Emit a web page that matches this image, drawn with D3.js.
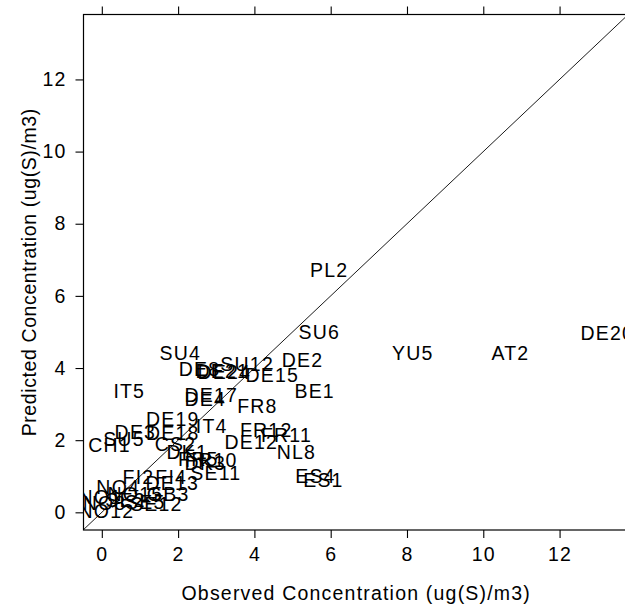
<!DOCTYPE html>
<html>
<head>
<meta charset="utf-8">
<script src="https://cdn.jsdelivr.net/npm/d3@7"></script>
<style>
  body { margin: 0; background: #fff; }
  text { font-family: "Liberation Sans", Arial, sans-serif; font-size: 19.5px; letter-spacing: 1.2px; fill: #000; }
  text.ytitle { letter-spacing: 0.6px; }
</style>
</head>
<body>
<div class="viz"></div>
<script>
// station labels with observed / predicted concentrations
var stations = ["PL2", "SU6", "DE2", "YU5", "AT2", "DE20", "BE1", "SU4", "SU12", "DE15",
    "DE8", "DE21", "DE24", "IT5", "DE17", "DE4", "FR8", "DE19", "IT4", "DE18",
    "DE3", "SU5", "CH1", "CS2", "DK1", "FR5", "DK3", "FR10", "SE11", "FI2",
    "FI4", "DE13", "NL8", "FR12", "FR11", "DE12", "ES4", "ES1", "NO4", "NO1",
    "NO8", "NO12", "SE2", "NO15", "SE5", "SE12", "GB3"];
var observed = [5.96, 5.70, 5.26, 8.15, 10.71, 13.25, 5.58, 2.06, 3.81, 4.47,
    2.56, 3.16, 3.21, 0.72, 2.87, 2.71, 4.08, 1.86, 2.88, 1.86,
    0.88, 0.58, 0.20, 1.93, 2.24, 2.53, 2.71, 2.87, 2.99, 0.96,
    1.82, 1.85, 5.10, 4.31, 4.84, 3.92, 5.60, 5.81, 0.43, -0.04,
    0.07, 0.12, 0.62, 0.88, 1.14, 1.43, 1.74];
var predicted = [6.73, 5.00, 4.21, 4.43, 4.43, 4.98, 3.35, 4.41, 4.11, 3.81,
    3.97, 3.92, 3.89, 3.35, 3.25, 3.15, 2.95, 2.60, 2.38, 2.21,
    2.23, 2.02, 1.88, 1.89, 1.67, 1.48, 1.37, 1.45, 1.10, 0.99,
    0.99, 0.81, 1.66, 2.28, 2.14, 1.96, 1.02, 0.90, 0.70, 0.42,
    0.26, 0.04, 0.34, 0.51, 0.29, 0.23, 0.51];
var xTicks = [0, 2, 4, 6, 8, 10, 12];
var yTicks = [0, 2, 4, 6, 8, 10, 12];
var xLabel = "Observed Concentration (ug(S)/m3)";
var yLabel = "Predicted Concentration (ug(S)/m3)";

var W = 625, H = 606;
// plot region (right edge falls just outside the picture)
var plotLeft = 83.5, plotRight = 629, plotTop = 14.5, plotBottom = 530;

var x = d3.scaleLinear().domain([-0.48, 13.82]).range([plotLeft, plotRight]);
var y = d3.scaleLinear().domain([-0.49, 13.80]).range([plotBottom, plotTop]);

var svg = d3.select(".viz").append("svg")
    .attr("width", W)
    .attr("height", H);

svg.append("defs").append("clipPath")
    .attr("id", "plotclip")
  .append("rect")
    .attr("x", plotLeft).attr("y", plotTop)
    .attr("width", plotRight - plotLeft).attr("height", plotBottom - plotTop);

// axes
var gx = svg.append("g")
    .attr("transform", "translate(0," + plotBottom + ")")
    .call(d3.axisBottom(x).tickValues(xTicks).tickSize(8).tickSizeOuter(0).tickPadding(9));
var gxt = svg.append("g")
    .attr("transform", "translate(0," + plotTop + ")")
    .call(d3.axisTop(x).tickValues(xTicks).tickSize(8).tickSizeOuter(0).tickFormat(""));
var gy = svg.append("g")
    .attr("transform", "translate(" + plotLeft + ",0)")
    .call(d3.axisLeft(y).tickValues(yTicks).tickSize(8).tickSizeOuter(0).tickPadding(9));

[gx, gxt, gy].forEach(function(g) {
    g.select(".domain").remove();
    g.selectAll("line").attr("stroke", "#000").attr("stroke-width", 1.1);
    g.selectAll("text").attr("fill", "#000");
    g.attr("font-family", null).attr("font-size", null);
});

// box
svg.append("rect")
    .attr("x", plotLeft).attr("y", plotTop)
    .attr("width", plotRight - plotLeft).attr("height", plotBottom - plotTop)
    .attr("fill", "none")
    .attr("stroke", "#000")
    .attr("stroke-width", 1.2);

var plot = svg.append("g").attr("clip-path", "url(#plotclip)");

// 1:1 line
plot.append("line")
    .attr("x1", x(-1)).attr("y1", y(-1))
    .attr("x2", x(15)).attr("y2", y(15))
    .attr("stroke", "#000")
    .attr("stroke-width", 0.9);

// station labels centred on their points
plot.selectAll("text.station")
    .data(stations)
  .enter().append("text")
    .attr("class", "station")
    .attr("x", function(d, i) { return x(observed[i]); })
    .attr("y", function(d, i) { return y(predicted[i]); })
    .attr("dy", "0.36em")
    .attr("text-anchor", "middle")
    .text(function(d) { return d; });

// axis titles
svg.append("text")
    .attr("x", (plotLeft + plotRight) / 2)
    .attr("y", 600)
    .attr("text-anchor", "middle")
    .text(xLabel);

svg.append("text")
    .attr("class", "ytitle")
    .attr("transform", "translate(36," + (plotTop + plotBottom) / 2 + ") rotate(-90)")
    .attr("text-anchor", "middle")
    .text(yLabel);
</script>
</body>
</html>
